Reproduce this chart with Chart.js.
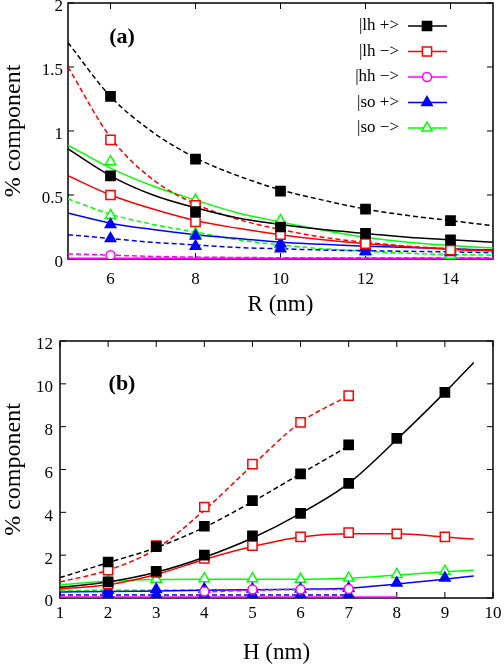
<!DOCTYPE html>
<html>
<head>
<meta charset="utf-8">
<script src="https://cdn.jsdelivr.net/npm/chart.js@4.4.1/dist/chart.umd.min.js"></script>
<style>
  html, body { margin: 0; padding: 0; background: #fff; }
  #wrap { position: relative; width: 504px; height: 667px; }
  .panel { position: absolute; left: 0; width: 504px; }
  #panelA { top: 0; height: 325px; }
  #panelB { top: 325px; height: 342px; }
</style>
</head>
<body>
<div id="wrap">
  <div class="panel" id="panelA"><canvas id="chartA"></canvas></div>
  <div class="panel" id="panelB"><canvas id="chartB"></canvas></div>
</div>
<script>
// states, in legend order
const stateNames = ['|lh +>', '|lh −>', '|hh −>', '|so +>', '|so −>'];
const stateColors = ['#000000', '#ff0000', '#ff00ff', '#0000ff', '#00ff00'];
const stateMarkers = ['rect', 'rect', 'circle', 'triangle', 'triangle'];
const stateFilled = [true, false, false, true, false];
const markerSize = [6.5, 6.5, 4.5, 6, 6];

// ---- panel (a): R dependence ----
const aTicksX = [6, 8, 10, 12, 14];
const aTicksY = [0, 0.5, 1, 1.5, 2];
const aFitX = [5, 6, 7, 8, 9, 10, 11, 12, 13, 14, 15];
const aLhPlusSolid  = [0.86, 0.65, 0.50, 0.40, 0.32, 0.27, 0.23, 0.20, 0.17, 0.15, 0.13];
const aLhPlusDash   = [1.69, 1.27, 0.99, 0.79, 0.65, 0.54, 0.46, 0.39, 0.34, 0.30, 0.26];
const aLhMinusSolid = [0.65, 0.50, 0.39, 0.30, 0.24, 0.19, 0.15, 0.12, 0.095, 0.075, 0.065];
const aLhMinusDash  = [1.50, 0.95, 0.62, 0.43, 0.31, 0.23, 0.17, 0.13, 0.10, 0.08, 0.065];
const aHhMinusSolid = [0.005, 0.005, 0.005, 0.005, 0.005, 0.005, 0.005, 0.005, 0.005, 0.005, 0.005];
const aHhMinusDash  = [0.04, 0.03, 0.02, 0.015, 0.012, 0.01, 0.01, 0.01, 0.01, 0.01, 0.01];
const aSoPlusSolid  = [0.36, 0.28, 0.23, 0.19, 0.16, 0.13, 0.115, 0.10, 0.09, 0.08, 0.07];
const aSoPlusDash   = [0.19, 0.16, 0.13, 0.11, 0.09, 0.08, 0.07, 0.065, 0.06, 0.055, 0.05];
const aSoMinusSolid = [0.89, 0.71, 0.57, 0.46, 0.36, 0.29, 0.225, 0.17, 0.13, 0.105, 0.085];
const aSoMinusDash  = [0.47, 0.35, 0.27, 0.21, 0.15, 0.11, 0.08, 0.06, 0.045, 0.035, 0.03];

const aDotX = [6, 8, 10, 12, 14];
const aLhPlusSolidDots  = [0.65, 0.37, 0.25, 0.20, 0.15];
const aLhPlusDashDots   = [1.27, 0.78, 0.53, 0.39, 0.30];
const aLhMinusSolidDots = [0.50, 0.29, 0.19, 0.12, 0.07];
const aLhMinusDashDots  = [0.93, 0.42, 0.22, 0.13, 0.08];
const aHhMinusDashDots  = [0.03, null, null, null, null];
const aSoPlusSolidDots  = [0.27, 0.18, 0.12, 0.09, 0.06];
const aSoPlusDashDots   = [0.16, 0.10, 0.08, 0.06, 0.05];
const aSoMinusSolidDots = [0.76, 0.46, 0.30, 0.17, 0.10];
const aSoMinusDashDots  = [0.34, 0.20, 0.10, 0.05, 0.03];

// ---- panel (b): H dependence ----
const bTicksX = [1, 2, 3, 4, 5, 6, 7, 8, 9, 10];
const bTicksY = [0, 2, 4, 6, 8, 10, 12];
const bFitX = [1, 2, 3, 4, 5, 6, 7, 8, 9, 9.6];
const bLhPlusSolid  = [0.5, 0.75, 1.2, 1.9, 2.8, 3.95, 5.35, 7.4, 9.6, 11.0];
const bLhMinusSolid = [0.42, 0.62, 1.1, 1.8, 2.4, 2.85, 3.0, 3.0, 2.85, 2.75];
const bHhMinusSolid = [0.05, 0.05, 0.05, 0.05, 0.05, 0.05, 0.05, 0.05, null, null];
const bSoPlusSolid  = [0.28, 0.3, 0.33, 0.36, 0.38, 0.41, 0.46, 0.65, 0.88, 1.03];
const bSoMinusSolid = [0.62, 0.78, 0.86, 0.88, 0.88, 0.87, 0.92, 1.07, 1.22, 1.3];

const bDashX = [1, 2, 3, 4, 5, 6, 7];
const bLhPlusDash  = [0.95, 1.65, 2.35, 3.3, 4.5, 5.8, 7.1];
const bLhMinusDash = [0.75, 1.3, 2.3, 4.1, 6.2, 8.2, 9.45];
const bHhMinusDash = [null, null, null, 0.28, 0.36, 0.4, 0.4];
const bSoPlusDash  = [0.14, 0.14, 0.14, 0.14, 0.14, 0.14, 0.14];
const bSoMinusDash = [0.35, 0.36, 0.37, 0.38, 0.38, 0.39, 0.4];

const bDotX = [2, 3, 4, 5, 6, 7, 8, 9];
const bLhPlusSolidDots  = [0.75, 1.25, 2.0, 2.9, 3.95, 5.35, 7.45, 9.6];
const bLhMinusSolidDots = [0.65, 1.2, 1.85, 2.45, 2.85, 3.05, 3.0, 2.85];
const bSoPlusSolidDots  = [0.36, 0.4, 0.42, 0.42, 0.42, 0.45, 0.7, 0.93];
const bSoMinusSolidDots = [0.82, 0.88, 0.9, 0.9, 0.87, 0.93, 1.1, 1.25];
const bLhPlusDashDots   = [1.68, 2.4, 3.35, 4.55, 5.8, 7.15, null, null];
const bLhMinusDashDots  = [1.3, 2.45, 4.25, 6.25, 8.2, 9.45, null, null];
const bHhMinusDashDots  = [null, null, 0.3, 0.4, 0.4, 0.42, null, null];
const bSoPlusDashDots   = [0.15, 0.15, 0.15, 0.15, 0.15, 0.15, null, null];

Chart.defaults.font.family = '"Liberation Serif", "DejaVu Serif", serif';
Chart.defaults.font.size = 17;
Chart.defaults.color = '#000';

function pairs(xs, ys) {
  return xs.map((x, i) => ({ x: x, y: ys[i] }));
}

function fitLine(xs, ys, s, dashed) {
  return {
    data: pairs(xs, ys),
    borderColor: stateColors[s],
    borderWidth: 1.5,
    borderDash: dashed ? [5, 3] : [],
    pointRadius: 0,
    cubicInterpolationMode: 'monotone',
    order: 2
  };
}

function dots(xs, ys, s) {
  return {
    data: pairs(xs, ys),
    showLine: false,
    pointStyle: stateMarkers[s],
    pointRadius: markerSize[s],
    pointBorderWidth: 1.5,
    pointBorderColor: stateColors[s],
    pointBackgroundColor: stateFilled[s] ? stateColors[s] : '#ffffff',
    order: 1
  };
}

// frame and inward ticks on all four sides
const frameTicks = {
  id: 'frameTicks',
  beforeDatasetsDraw(chart) {
    const { ctx, chartArea: a, scales: { x, y } } = chart;
    ctx.save();
    ctx.strokeStyle = '#000';
    ctx.lineWidth = 1;
    ctx.beginPath();
    x.ticks.forEach(t => {
      const px = x.getPixelForValue(t.value);
      ctx.moveTo(px, a.bottom); ctx.lineTo(px, a.bottom - 6);
      ctx.moveTo(px, a.top); ctx.lineTo(px, a.top + 6);
    });
    y.ticks.forEach(t => {
      const py = y.getPixelForValue(t.value);
      ctx.moveTo(a.left, py); ctx.lineTo(a.left + 6, py);
      ctx.moveTo(a.right, py); ctx.lineTo(a.right - 6, py);
    });
    ctx.stroke();
    ctx.lineWidth = 1.5;
    ctx.strokeRect(a.left, a.top, a.right - a.left, a.bottom - a.top);
    ctx.restore();
  }
};

// panel tag and key
const panelText = {
  id: 'panelText',
  afterDatasetsDraw(chart, args, opts) {
    const ctx = chart.ctx;
    ctx.save();
    ctx.fillStyle = '#000';
    ctx.font = 'bold 22px "Liberation Serif", serif';
    ctx.textAlign = 'center';
    ctx.textBaseline = 'middle';
    ctx.fillText(opts.tag, opts.tagX, opts.tagY);
    if (opts.key) {
      ctx.font = '17px "Liberation Serif", serif';
      ctx.textAlign = 'right';
      stateNames.forEach((name, s) => {
        const yy = 26 + s * 25.5;
        ctx.fillStyle = '#000';
        ctx.fillText(name, 399, yy);
        ctx.strokeStyle = stateColors[s];
        ctx.lineWidth = 1.5;
        ctx.beginPath();
        ctx.moveTo(408, yy); ctx.lineTo(447, yy);
        ctx.stroke();
        ctx.fillStyle = stateFilled[s] ? stateColors[s] : '#ffffff';
        Chart.helpers.drawPoint(ctx, {
          pointStyle: stateMarkers[s], radius: markerSize[s], borderWidth: 1.5, rotation: 0
        }, 427, yy);
      });
    }
    ctx.restore();
  }
};

function makeOptions(o) {
  return {
    responsive: true,
    maintainAspectRatio: false,
    animation: false,
    layout: { autoPadding: false, padding: { left: 0, right: 11, top: o.top, bottom: 0 } },
    plugins: {
      legend: { display: false },
      tooltip: { enabled: false },
      panelText: { tag: o.tag, tagX: 122, tagY: o.tagY, key: o.key }
    },
    scales: {
      x: {
        type: 'linear', min: o.xMin, max: o.xMax,
        grid: { display: false, drawTicks: false },
        border: { display: false },
        afterBuildTicks: s => { s.ticks = o.ticksX.map(v => ({ value: v })); },
        afterFit: s => { s.height = o.xHeight; s.paddingLeft = 0; s.paddingRight = 0; },
        ticks: { padding: o.xPad, callback: v => String(v) },
        title: { display: true, text: o.xTitle, font: { size: 23 }, padding: { top: 0, bottom: o.xTitlePad } }
      },
      y: {
        type: 'linear', min: o.yMin, max: o.yMax,
        grid: { display: false, drawTicks: false },
        border: { display: false },
        afterBuildTicks: s => { s.ticks = o.ticksY.map(v => ({ value: v })); },
        afterFit: s => { s.width = o.yWidth; s.paddingTop = 0; s.paddingBottom = 0; },
        ticks: { padding: o.yPad, labelOffset: 4, callback: v => String(v) },
        title: { display: true, text: '% component', font: { size: 24 }, padding: { top: -1, bottom: 0 } }
      }
    }
  };
}

new Chart(document.getElementById('chartA'), {
  type: 'line',
  data: {
    datasets: [
      dots(aDotX, aLhPlusSolidDots, 0), dots(aDotX, aLhPlusDashDots, 0),
      dots(aDotX, aLhMinusSolidDots, 1), dots(aDotX, aLhMinusDashDots, 1),
      dots(aDotX, aHhMinusDashDots, 2),
      dots(aDotX, aSoPlusSolidDots, 3), dots(aDotX, aSoPlusDashDots, 3),
      dots(aDotX, aSoMinusSolidDots, 4), dots(aDotX, aSoMinusDashDots, 4),
      fitLine(aFitX, aLhPlusSolid, 0, false), fitLine(aFitX, aLhPlusDash, 0, true),
      fitLine(aFitX, aLhMinusSolid, 1, false), fitLine(aFitX, aLhMinusDash, 1, true),
      fitLine(aFitX, aHhMinusSolid, 2, false), fitLine(aFitX, aHhMinusDash, 2, true),
      fitLine(aFitX, aSoPlusSolid, 3, false), fitLine(aFitX, aSoPlusDash, 3, true),
      fitLine(aFitX, aSoMinusSolid, 4, false), fitLine(aFitX, aSoMinusDash, 4, true)
    ]
  },
  options: makeOptions({
    top: 3, tag: '(a)', tagY: 37, key: true,
    xMin: 5, xMax: 15, yMin: 0, yMax: 2, ticksX: aTicksX, ticksY: aTicksY,
    xHeight: 66, xPad: 10, xTitle: 'R (nm)', xTitlePad: 6, yWidth: 68, yPad: 5
  }),
  plugins: [frameTicks, panelText]
});

new Chart(document.getElementById('chartB'), {
  type: 'line',
  data: {
    datasets: [
      dots(bDotX, bLhPlusSolidDots, 0), dots(bDotX, bLhPlusDashDots, 0),
      dots(bDotX, bLhMinusSolidDots, 1), dots(bDotX, bLhMinusDashDots, 1),
      dots(bDotX, bHhMinusDashDots, 2),
      dots(bDotX, bSoPlusSolidDots, 3), dots(bDotX, bSoPlusDashDots, 3),
      dots(bDotX, bSoMinusSolidDots, 4),
      fitLine(bFitX, bLhPlusSolid, 0, false), fitLine(bDashX, bLhPlusDash, 0, true),
      fitLine(bFitX, bLhMinusSolid, 1, false), fitLine(bDashX, bLhMinusDash, 1, true),
      fitLine(bFitX, bHhMinusSolid, 2, false), fitLine(bDashX, bHhMinusDash, 2, true),
      fitLine(bFitX, bSoPlusSolid, 3, false), fitLine(bDashX, bSoPlusDash, 3, true),
      fitLine(bFitX, bSoMinusSolid, 4, false), fitLine(bDashX, bSoMinusDash, 4, true)
    ]
  },
  options: makeOptions({
    top: 16, tag: '(b)', tagY: 59, key: false,
    xMin: 1, xMax: 10, yMin: 0, yMax: 12, ticksX: bTicksX, ticksY: bTicksY,
    xHeight: 69, xPad: 5, xTitle: 'H (nm)', xTitlePad: 0, yWidth: 60, yPad: 7
  }),
  plugins: [frameTicks, panelText]
});
</script>
</body>
</html>
